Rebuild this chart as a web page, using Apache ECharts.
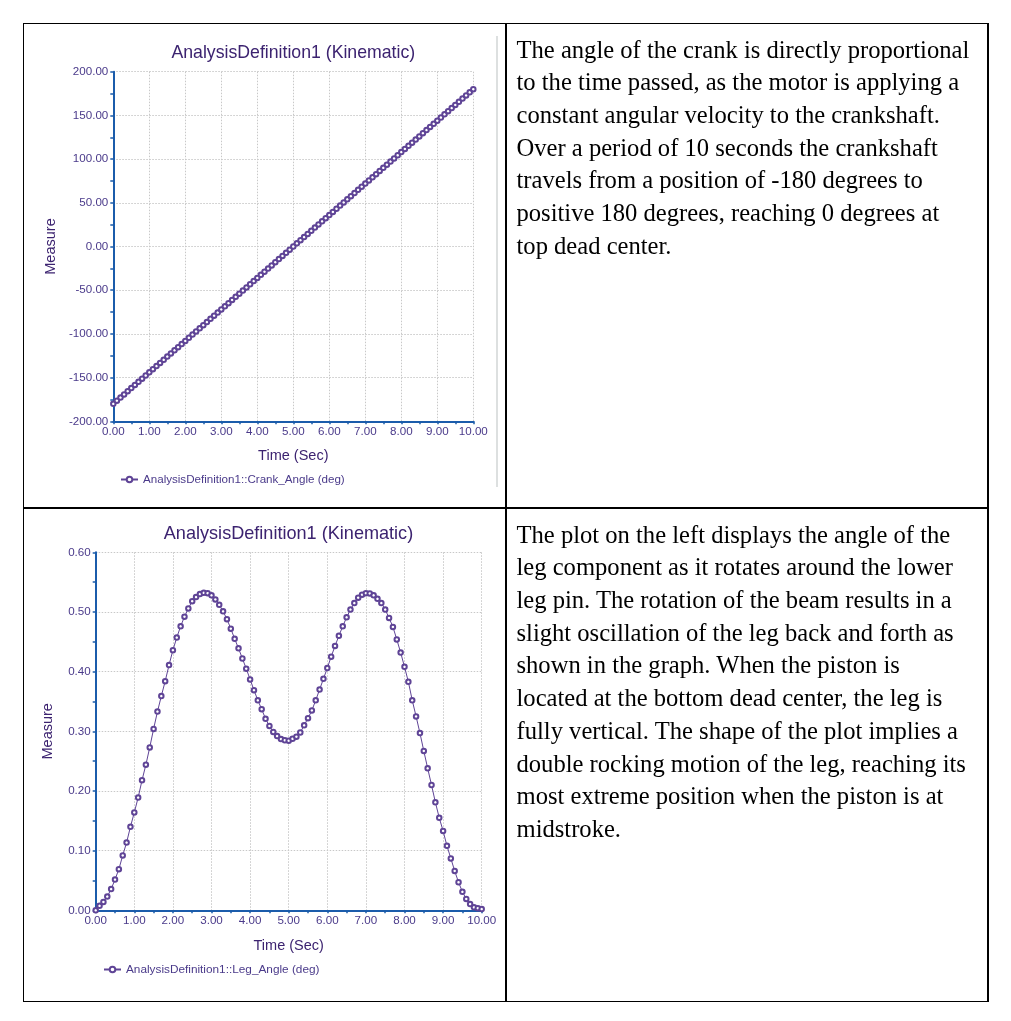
<!DOCTYPE html>
<html>
<head>
<meta charset="utf-8">
<script src="https://cdn.jsdelivr.net/npm/echarts@6/dist/echarts.min.js"></script>
<style>
  html, body { margin: 0; padding: 0; background: #fff; }
  #chart { position: absolute; left: 0; top: 0; width: 1011px; height: 1021px; }
  .ln { position: absolute; background: #000; z-index: 2; }
  .txt { position: absolute; z-index: 2; font-family: "Liberation Serif", "Times New Roman", serif;
         font-size: 24.6px; line-height: 32.7px; color: #000; white-space: nowrap; }
</style>
</head>
<body>
<div id="chart"></div>
<!-- table lines -->
<div class="ln" style="left:22.5px;top:22.5px;width:966px;height:1.5px"></div>
<div class="ln" style="left:22.5px;top:1000.5px;width:966px;height:1.5px"></div>
<div class="ln" style="left:22.5px;top:507px;width:966px;height:1.5px"></div>
<div class="ln" style="left:22.5px;top:22.5px;width:1.5px;height:979px"></div>
<div class="ln" style="left:987px;top:22.5px;width:1.5px;height:979px"></div>
<div class="ln" style="left:505px;top:22.5px;width:1.5px;height:979px"></div>
<div class="ln" style="left:496px;top:36px;width:1.5px;height:451px;background:#dde0e0"></div>

<div class="txt" style="left:516.5px;top:33.6px">The angle of the crank is directly proportional<br>to the time passed, as the motor is applying a<br>constant angular velocity to the crankshaft.<br>Over a period of 10 seconds the crankshaft<br>travels from a position of -180 degrees to<br>positive 180 degrees, reaching 0 degrees at<br>top dead center.</div>
<div class="txt" style="left:516.5px;top:518.6px">The plot on the left displays the angle of the<br>leg component as it rotates around the lower<br>leg pin. The rotation of the beam results in a<br>slight oscillation of the leg back and forth as<br>shown in the graph. When the piston is<br>located at the bottom dead center, the leg is<br>fully vertical. The shape of the plot implies a<br>double rocking motion of the leg, reaching its<br>most extreme position when the piston is at<br>midstroke.</div>

<script>
// ---- data ----
var timeSec = [0,0.1,0.2,0.3,0.4,0.5,0.6,0.7,0.8,0.9,1,1.1,1.2,1.3,1.4,1.5,1.6,1.7,1.8,1.9,
  2,2.1,2.2,2.3,2.4,2.5,2.6,2.7,2.8,2.9,3,3.1,3.2,3.3,3.4,3.5,3.6,3.7,3.8,3.9,
  4,4.1,4.2,4.3,4.4,4.5,4.6,4.7,4.8,4.9,5,5.1,5.2,5.3,5.4,5.5,5.6,5.7,5.8,5.9,
  6,6.1,6.2,6.3,6.4,6.5,6.6,6.7,6.8,6.9,7,7.1,7.2,7.3,7.4,7.5,7.6,7.7,7.8,7.9,
  8,8.1,8.2,8.3,8.4,8.5,8.6,8.7,8.8,8.9,9,9.1,9.2,9.3,9.4,9.5,9.6,9.7,9.8,9.9,10];

var crankAngle = [-180,-176.4,-172.8,-169.2,-165.6,-162,-158.4,-154.8,-151.2,-147.6,
  -144,-140.4,-136.8,-133.2,-129.6,-126,-122.4,-118.8,-115.2,-111.6,
  -108,-104.4,-100.8,-97.2,-93.6,-90,-86.4,-82.8,-79.2,-75.6,
  -72,-68.4,-64.8,-61.2,-57.6,-54,-50.4,-46.8,-43.2,-39.6,
  -36,-32.4,-28.8,-25.2,-21.6,-18,-14.4,-10.8,-7.2,-3.6,
  0,3.6,7.2,10.8,14.4,18,21.6,25.2,28.8,32.4,
  36,39.6,43.2,46.8,50.4,54,57.6,61.2,64.8,68.4,
  72,75.6,79.2,82.8,86.4,90,93.6,97.2,100.8,104.4,
  108,111.6,115.2,118.8,122.4,126,129.6,133.2,136.8,140.4,
  144,147.6,151.2,154.8,158.4,162,165.6,169.2,172.8,176.4,180];

var legAngle = [0.000,0.0075,0.014,0.023,0.0355,0.0515,0.069,0.092,0.1135,0.140,
  0.164,0.189,0.218,0.244,0.273,0.304,0.333,0.359,0.384,0.411,
  0.436,0.457,0.476,0.492,0.506,0.518,0.525,0.530,0.532,0.5315,
  0.528,0.521,0.512,0.501,0.488,0.472,0.455,0.439,0.422,0.405,
  0.387,0.369,0.352,0.337,0.321,0.309,0.299,0.292,0.287,0.285,
  0.2843,0.2875,0.291,0.298,0.310,0.322,0.335,0.352,0.370,0.388,
  0.406,0.425,0.443,0.460,0.476,0.491,0.504,0.515,0.524,0.529,
  0.5315,0.531,0.528,0.522,0.515,0.504,0.490,0.475,0.454,0.432,
  0.408,0.383,0.352,0.325,0.297,0.267,0.238,0.210,0.181,0.155,
  0.133,0.108,0.087,0.066,0.047,0.031,0.019,0.0105,0.005,0.0035,0.002];

var chartTitle = 'AnalysisDefinition1 (Kinematic)';
var crankName = 'AnalysisDefinition1::Crank_Angle (deg)';
var legName = 'AnalysisDefinition1::Leg_Angle (deg)';
var xName = 'Time (Sec)';
var yName = 'Measure';

// ---- styling ----
var FONT = 'Liberation Sans, Arial, sans-serif';
var AXIS_BLUE = '#1b5cab';
var LABEL_COL = '#4a3a8a';
var TITLE_COL = '#3c2370';
var SERIES_COL = '#5f4496';

function pairs(xs, ys) { return xs.map(function (x, i) { return [x, ys[i]]; }); }

function xAxisCfg(gridIndex, gap) {
  return {
    type: 'value', gridIndex: gridIndex, min: 0, max: 10, interval: 1,
    name: xName, nameLocation: 'middle', nameGap: gap,
    nameTextStyle: { color: TITLE_COL, fontFamily: FONT, fontSize: 14.5 },
    axisLine: { show: true, onZero: false, lineStyle: { color: AXIS_BLUE, width: 2 } },
    axisTick: { show: true, length: 3, lineStyle: { color: AXIS_BLUE, width: 1.5 } },
    minorTick: { show: true, splitNumber: 2, length: 3, lineStyle: { color: AXIS_BLUE, width: 1.5 } },
    axisLabel: { color: LABEL_COL, fontFamily: FONT, fontSize: 11.6, margin: 4,
                 formatter: function (v) { return v.toFixed(2); } },
    splitLine: { show: true, lineStyle: { color: '#c8c8c8', width: 1, type: [1.5, 1.5] } }
  };
}
function yAxisCfg(gridIndex, min, max, interval, gap) {
  return {
    type: 'value', gridIndex: gridIndex, min: min, max: max, interval: interval,
    name: yName, nameLocation: 'middle', nameGap: gap,
    nameTextStyle: { color: TITLE_COL, fontFamily: FONT, fontSize: 14.5 },
    axisLine: { show: true, onZero: false, lineStyle: { color: AXIS_BLUE, width: 2 } },
    axisTick: { show: true, length: 3, lineStyle: { color: AXIS_BLUE, width: 1.5 } },
    minorTick: { show: true, splitNumber: 2, length: 3, lineStyle: { color: AXIS_BLUE, width: 1.5 } },
    axisLabel: { color: LABEL_COL, fontFamily: FONT, fontSize: 11.6, margin: 5,
                 formatter: function (v) { return v.toFixed(2); } },
    splitLine: { show: true, lineStyle: { color: '#c8c8c8', width: 1, type: [1.5, 1.5] } }
  };
}
function seriesCfg(name, idx, data) {
  return {
    type: 'line', name: name, xAxisIndex: idx, yAxisIndex: idx, data: data,
    symbol: 'emptyCircle', symbolSize: 4.5, showSymbol: true,
    lineStyle: { color: SERIES_COL, width: 1 },
    itemStyle: { color: SERIES_COL, borderWidth: 0.9 },
    animation: false
  };
}

var chart = echarts.init(document.getElementById('chart'), null, { renderer: 'canvas' });
chart.setOption({
  animation: false,
  backgroundColor: '#ffffff',
  title: [
    { text: chartTitle, left: 293.3, top: 53.3, textAlign: 'center', textVerticalAlign: 'middle', padding: 0,
      textStyle: { color: TITLE_COL, fontFamily: FONT, fontSize: 17.7, fontWeight: 'normal' } },
    { text: chartTitle, left: 288.5, top: 534.3, textAlign: 'center', textVerticalAlign: 'middle', padding: 0,
      textStyle: { color: TITLE_COL, fontFamily: FONT, fontSize: 18.1, fontWeight: 'normal' } }
  ],
  legend: [
    { data: [crankName], left: 120, top: 473.5, padding: 0, itemWidth: 17, itemHeight: 7,
      textStyle: { color: LABEL_COL, fontFamily: FONT, fontSize: 11.6 } },
    { data: [legName], left: 103, top: 963.5, padding: 0, itemWidth: 17, itemHeight: 7,
      textStyle: { color: LABEL_COL, fontFamily: FONT, fontSize: 11.8 } }
  ],
  grid: [
    { left: 113.3, top: 71.7, width: 360, height: 349.6, containLabel: false },
    { left: 95.7, top: 552.3, width: 386, height: 358, containLabel: false }
  ],
  xAxis: [ xAxisCfg(0, 27), xAxisCfg(1, 28) ],
  yAxis: [ yAxisCfg(0, -200, 200, 50, 55), yAxisCfg(1, 0, 0.6, 0.1, 40) ],
  series: [
    seriesCfg(crankName, 0, pairs(timeSec, crankAngle)),
    seriesCfg(legName, 1, pairs(timeSec, legAngle))
  ]
});
</script>
</body>
</html>
